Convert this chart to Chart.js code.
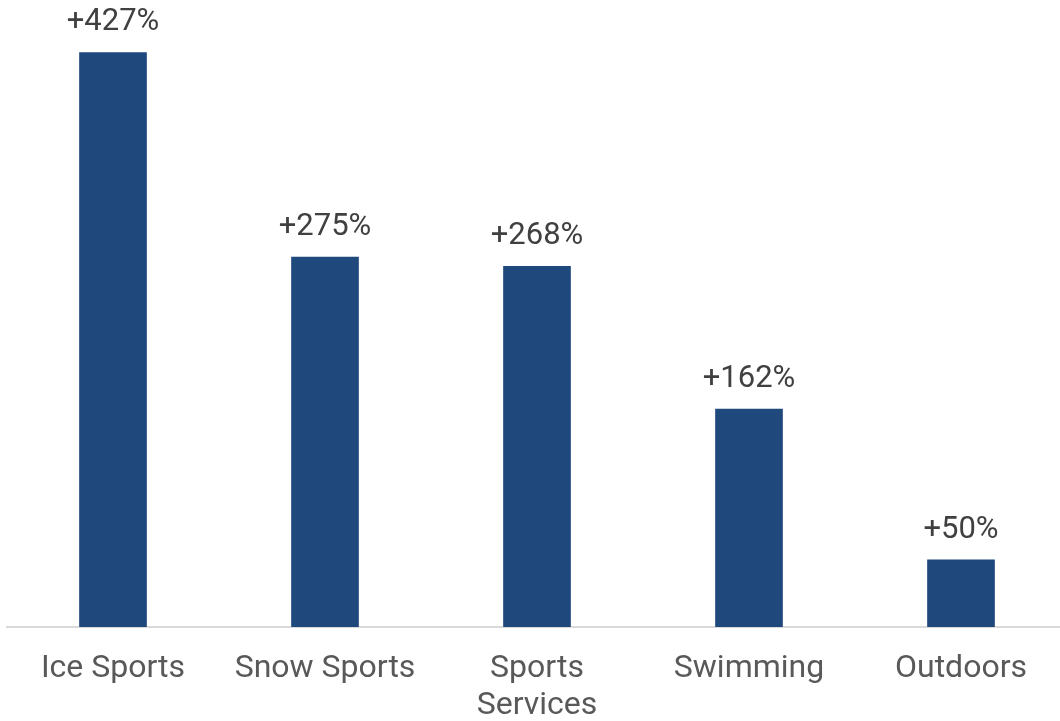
<!DOCTYPE html>
<html>
<head>
<meta charset="utf-8">
<script src="https://cdn.jsdelivr.net/npm/chart.js@4.4.1/dist/chart.umd.min.js"></script>
<style>
  html,body{margin:0;padding:0;background:#fff;overflow:hidden;width:1060px;height:721px}
  #wrap{position:absolute;left:0;top:0;width:1067px;height:721px}
</style>
</head>
<body>
<div id="wrap"><canvas id="ch"></canvas></div>
<script>
/* ---------- datos ---------- */
const categories=['Ice Sports','Snow Sports',['Sports','Services'],'Swimming','Outdoors'];
const growth=[427,275,268,162,50];
const valueLabels=['+427%','+275%','+268%','+162%','+50%'];

/* etiquetas de valor encima de cada barra */
const barLabels={
  id:'barLabels',
  afterDatasetsDraw(chart){
    const {ctx}=chart;
    const meta=chart.getDatasetMeta(0);
    ctx.save();
    ctx.font='31px Roboto';
    ctx.fillStyle='#404040';
    ctx.textAlign='center';
    ctx.textBaseline='alphabetic';
    meta.data.forEach((bar,i)=>{ctx.fillText(valueLabels[i],bar.x,bar.y-22);});
    ctx.restore();
  }
};

new Chart(document.getElementById('ch'),{
  type:'bar',
  data:{labels:categories,datasets:[{data:growth,backgroundColor:'#1F497D',barThickness:67}]},
  options:{
    responsive:true,maintainAspectRatio:false,animation:false,
    layout:{padding:{left:7,right:0,top:0,bottom:0}},
    plugins:{legend:{display:false},tooltip:{enabled:false}},
    scales:{
      x:{
        grid:{display:false},
        border:{display:true,color:'#d9d9d9',width:2},
        ticks:{color:'#595959',font:{family:'Roboto',size:32,lineHeight:1.15},padding:16,maxRotation:0,autoSkip:false},
        afterFit(s){s.height=94;}
      },
      y:{display:false,min:0,max:466}
    }
  },
  plugins:[barLabels]
});
</script>
</body>
</html>
